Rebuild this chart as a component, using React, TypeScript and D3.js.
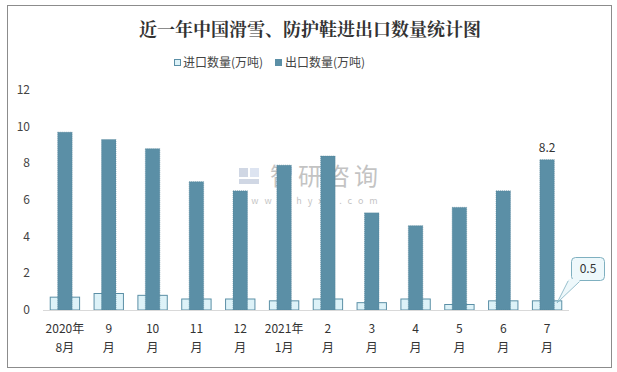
import React from "react";
import * as d3 from "d3";

const months = ["2020年\n8月", "9\n月", "10\n月", "11\n月", "12\n月", "2021年\n1月", "2\n月", "3\n月", "4\n月", "5\n月", "6\n月", "7\n月"];
const importQty = [0.7, 0.9, 0.8, 0.6, 0.6, 0.5, 0.6, 0.4, 0.6, 0.3, 0.5, 0.5];
const exportQty = [9.7, 9.3, 8.8, 7.0, 6.5, 7.9, 8.4, 5.3, 4.6, 5.6, 6.5, 8.2];
const yTicks = [0, 2, 4, 6, 8, 10, 12];

const W = 617;
const H = 372;
const PLOT = { LEFT: 43, RIGHT: 569, TOP: 90, BOTTOM: 310 };
const FONT = "'Microsoft YaHei', 'Noto Sans CJK SC', 'Noto Sans', sans-serif";
const DARK = "#5b8fa6";

const App = () => {
  const x = d3.scaleBand<string>().domain(months).range([PLOT.LEFT, PLOT.RIGHT]);
  const y = d3.scaleLinear().domain([0, 12]).range([PLOT.BOTTOM, PLOT.TOP]);
  const bw = x.bandwidth();
  const impW = bw * 0.67;
  const expW = bw * 0.33;

  const last = months.length - 1;
  const lastCx = (x(months[last]) as number) + bw / 2;

  return (
    <svg width={W} height={H} style={{ position: "absolute", left: 0, top: 0 }} fontFamily={FONT}>
      <rect x={7.5} y={5.5} width={604} height={362} fill="#fff" stroke="#8c8c8c" />

      <text x={310} y={36} textAnchor="middle" fontSize={18} fontWeight="bold" fill="#333"
        fontFamily="'Noto Serif CJK SC', 'Noto Sans CJK SC', serif">
        近一年中国滑雪、防护鞋进出口数量统计图
      </text>

      {/* legend */}
      <rect x={174.5} y={59.5} width={6} height={6} fill="#ddf2f8" stroke={DARK} />
      <text x={183} y={67} fontSize={12} fill="#444">进口数量(万吨)</text>
      <rect x={275} y={59} width={7} height={7} fill={DARK} />
      <text x={285} y={67} fontSize={12} fill="#444">出口数量(万吨)</text>

      {/* watermark */}
      <g opacity={0.35}>
        <rect x={239} y={168} width={9} height={9} fill="#7a8fb5" />
        <rect x={250} y={168} width={9} height={9} fill="#9fb3d8" />
        <rect x={239} y={179} width={20} height={5} fill="#7a8fb5" />
        <text x={270} y={185} fontSize={24} fill="#555" letterSpacing={4}>智研咨询</text>
        <text x={238} y={204} fontSize={9} fill="#555" letterSpacing={6}>www.chyxx.com</text>
      </g>

      {/* y axis labels */}
      {yTicks.map(t => (
        <text key={t} x={30} y={y(t) + 4} textAnchor="end" fontSize={12} fill="#444">{t}</text>
      ))}

      {/* bars */}
      {months.map((m, i) => {
        const cx = (x(m) as number) + bw / 2;
        return (
          <g key={m}>
            <rect x={cx - impW / 2} y={y(importQty[i])} width={impW} height={y(0) - y(importQty[i])}
              fill="#ddf2f8" stroke={DARK} strokeWidth={1} />
            <rect x={cx - expW / 2} y={y(exportQty[i])} width={expW} height={y(0) - y(exportQty[i])}
              fill={DARK} stroke="#4f7f95" strokeWidth={0.6} strokeDasharray="1,1" />
          </g>
        );
      })}

      <line x1={PLOT.LEFT} x2={PLOT.RIGHT} y1={y(0) + 0.5} y2={y(0) + 0.5} stroke="#d9d9d9" />

      {/* x labels */}
      {months.map(m => {
        const cx = (x(m) as number) + bw / 2;
        const [a, b] = m.split("\n");
        return (
          <text key={m} x={cx} textAnchor="middle" fontSize={12} fill="#333">
            <tspan x={cx} y={333}>{a}</tspan>
            <tspan x={cx} y={352}>{b}</tspan>
          </text>
        );
      })}

      {/* data labels */}
      <text x={lastCx} y={y(exportQty[last]) - 8} textAnchor="middle" fontSize={12} fill="#333">
        {exportQty[last]}
      </text>
      <path
        d={`M${lastCx + 10},${y(importQty[last]) + 2} L${lastCx + 21},281 L${lastCx + 33},281 Z`}
        fill="#eef8fb" stroke="#7fb0c0" strokeWidth={0.8}
      />
      <rect x={571.5} y={257.5} width={33} height={23} rx={4} fill="#eef8fb" stroke="#7fb0c0" />
      <rect x={lastCx + 21.5} y={279} width={11} height={3} fill="#eef8fb" />
      <text x={588} y={273} textAnchor="middle" fontSize={12} fill="#333">{importQty[last]}</text>
    </svg>
  );
};

export default App;
